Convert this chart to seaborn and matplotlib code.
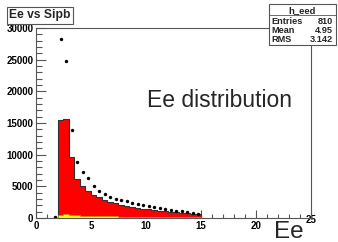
import numpy as np
import pandas as pd
import matplotlib
matplotlib.use("Agg")
import matplotlib.pyplot as plt
import matplotlib.transforms as mtransforms
import seaborn as sns

# bin lower edges (width 0.5) and contents
bin_low = [2.0, 2.5, 3.0, 3.5, 4.0, 4.5, 5.0, 5.5, 6.0, 6.5, 7.0, 7.5, 8.0,
           8.5, 9.0, 9.5, 10.0, 10.5, 11.0, 11.5, 12.0, 12.5, 13.0, 13.5, 14.0, 14.5]
red_counts = [15500, 15700, 9600, 6100, 5100, 4300, 3600, 3250, 2900, 2600, 2350, 2100, 1850,
              1750, 1600, 1500, 1350, 1250, 1150, 1050, 960, 880, 800, 720, 650, 600]
yellow_counts = [450, 650, 500, 420, 360, 380, 300, 280, 300, 250, 260, 230, 240,
                 220, 200, 210, 190, 180, 190, 170, 160, 150, 150, 140, 130, 120]
dot_x = [1.75, 2.25, 2.75, 3.25, 3.75, 4.25, 4.75, 5.25, 5.75, 6.25, 6.75, 7.25, 7.75,
         8.25, 8.75, 9.25, 9.75, 10.25, 10.75, 11.25, 11.75, 12.25, 12.75, 13.25, 13.75,
         14.25, 14.75]
dot_y = [150, 28200, 24800, 13900, 8900, 7300, 6300, 5100, 4300, 3750, 3330, 3020, 2810,
         2630, 2340, 2190, 2080, 1880, 1770, 1610, 1400, 1300, 1140, 1040, 890, 730, 670]

x_ticks = [0, 5, 10, 15, 20, 25]
y_ticks = [0, 5000, 10000, 15000, 20000, 25000, 30000]
stats_rows = [("Entries", "810"), ("Mean", "4.95"), ("RMS", "3.142")]

bin_width = 0.5
centers = np.array(bin_low) + bin_width / 2
hist = pd.DataFrame({"x": centers, "red": red_counts, "yellow": yellow_counts})
hrange = (bin_low[0], bin_low[-1] + bin_width)

sns.set_style("white")
plt.rcParams["font.family"] = ["Liberation Sans", "DejaVu Sans"]
plt.rcParams["font.weight"] = "bold"

fig = plt.figure(figsize=(3.38, 2.42), dpi=100)
ax = fig.add_axes([0.1065, 0.099, 0.8135, 0.785])

# red histogram with dark step outline
sns.histplot(data=hist, x="x", weights="red", binwidth=bin_width, binrange=hrange,
             element="step", fill=True, color="red", alpha=1, edgecolor="#333333",
             linewidth=0.8, ax=ax)
# yellow histogram
sns.histplot(data=hist, x="x", weights="yellow", binwidth=bin_width, binrange=hrange,
             element="step", fill=True, color="#ffff00", alpha=1, edgecolor="#999900",
             linewidth=0.4, ax=ax)
# black points
sns.scatterplot(x=dot_x, y=dot_y, color="black", s=6, marker="o", linewidth=0, ax=ax)

ax.set_xlim(0, 25)
ax.set_ylim(0, 30000)
ax.set_xlabel("")
ax.set_ylabel("")

ax.set_xticks(x_ticks, labels=[str(t) for t in x_ticks])
ax.set_xticks(np.arange(0, 26, 1), minor=True)
ax.set_yticks(y_ticks, labels=[str(t) for t in y_ticks])
ax.set_yticks(np.arange(0, 30001, 1000), minor=True)
ax.tick_params(axis="both", which="both", direction="in", colors="#555555",
               labelcolor="black", labelsize=7, width=0.8, bottom=True, left=True,
               top=False, right=False)
ax.tick_params(axis="y", which="major", length=7, pad=2)
ax.tick_params(axis="y", which="minor", length=4)
ax.tick_params(axis="x", which="major", length=6, pad=2)
ax.tick_params(axis="x", which="minor", length=3)

# last x label is pushed up like in the original
lab25 = ax.get_xticklabels()[-1]
lab25.set_transform(lab25.get_transform() + mtransforms.ScaledTranslation(0.0, 0.06, fig.dpi_scale_trans))

for sp in ax.spines.values():
    sp.set_visible(True)
    sp.set_color("#555555")
    sp.set_linewidth(0.8)

ax.text(0.404, 0.62, "Ee distribution", transform=ax.transAxes, fontsize=16.5,
        fontweight="normal", ha="left", va="center")
fig.text(0.897, -0.005, "Ee", fontsize=17.5, fontweight="normal", ha="right", va="bottom")

# title box
fig.text(0.027, 0.912, "Ee vs Sipb", fontsize=8.7, ha="left", va="bottom",
         bbox=dict(boxstyle="square,pad=0.2", facecolor="white", edgecolor="#555555", linewidth=0.8))

# stats box
bx0, bx1, by0, by1 = 0.796, 0.994, 0.812, 0.982
fig.patches.append(plt.Rectangle((bx0, by0), bx1 - bx0, by1 - by0, transform=fig.transFigure,
                                 facecolor="white", edgecolor="#555555", linewidth=0.8, zorder=5))
fig.text((bx0 + bx1) / 2, 0.958, "h_eed", fontsize=6.8, ha="center", va="center", zorder=6)
fig.lines.append(plt.Line2D([bx0, bx1], [0.936, 0.936], transform=fig.transFigure,
                            color="#555555", linewidth=0.6, zorder=6))
for i, (name, val) in enumerate(stats_rows):
    yy = 0.913 - i * 0.038
    fig.text(bx0 + 0.008, yy, name, fontsize=6.6, ha="left", va="center", zorder=6)
    fig.text(bx1 - 0.008, yy, val, fontsize=6.6, ha="right", va="center", zorder=6)

fig.savefig("out.png", dpi=100)
